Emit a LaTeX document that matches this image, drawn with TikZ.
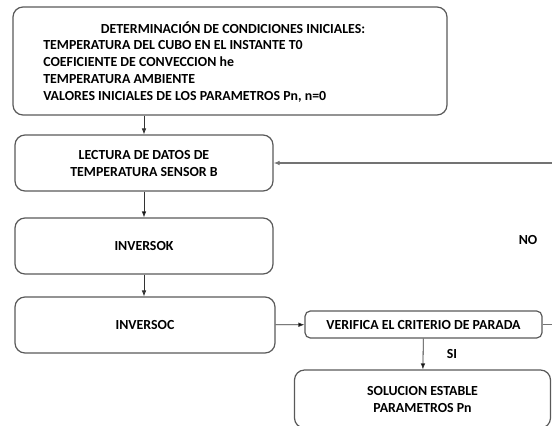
\documentclass[tikz,border=0pt]{standalone}
\usepackage{fontspec}
\setmainfont{Carlito}
\usetikzlibrary{arrows.meta}

\begin{document}
\begin{tikzpicture}[x=0.75pt,y=-0.75pt,>={Latex[length=4.5pt,width=3.5pt]},
		font=\bfseries\fontsize{10.4}{12.75}\selectfont]
		\tikzstyle{box}  = [rectangle,draw=black!65,line width=0.9pt,rounded corners=7.5pt,inner sep=0pt]
		\tikzstyle{flow} = [->,draw=black!80,line width=0.6pt]
		\tikzstyle{back} = [->,draw=black!55,line width=1pt]
		\useasboundingbox (0,0) rectangle (552,425);
		
		\node[box,minimum width=325.5pt,minimum height=81pt] (init) at (230,61) {};
		\node (inittitle) at (233,28) {DETERMINACIÓN DE CONDICIONES INICIALES:};
		\node[anchor=west,align=left,inner sep=0pt] (initlines) at (43,71)
			{TEMPERATURA DEL CUBO EN EL INSTANTE T0\\
			 COEFICIENTE DE CONVECCION he\\
			 TEMPERATURA AMBIENTE\\
			 VALORES INICIALES DE LOS PARAMETROS Pn, n=0};
		\node[box,align=center,minimum width=193.5pt,minimum height=42pt] (lectura) at (144,163)
			{LECTURA DE DATOS DE\\TEMPERATURA SENSOR B};
		\node[box,minimum width=193.5pt,minimum height=42pt] (inversok) at (144,246) {INVERSOK};
		\node[box,minimum width=195pt,minimum height=42pt] (inversoc) at (145,325) {INVERSOC};
		\node[box,rounded corners=4pt,minimum width=177.75pt,minimum height=20.25pt] (verifica) at (423.5,324.5)
			{VERIFICA EL CRITERIO DE PARADA};
		\node[box,align=center,minimum width=192pt,minimum height=43.5pt] (solucion) at (422.5,399)
			{SOLUCION ESTABLE\\PARAMETROS Pn};
		\node (no) at (528,240) {NO};
		\node (si) at (452,354) {SI};
		\coordinate (turn) at (560,163);
		
		\draw[flow] (lectura.north |- init.south) -- (lectura.north);
		\path[flow] (lectura) edge (inversok);
		\draw[flow] (inversok.south) -- (inversok.south |- inversoc.north);
		\path[flow] (inversoc) edge (verifica);
		\path[flow] (verifica) edge (solucion);
		\draw[back] (verifica.east) -| (turn) -- (lectura.east);
	\end{tikzpicture}
\end{document}
